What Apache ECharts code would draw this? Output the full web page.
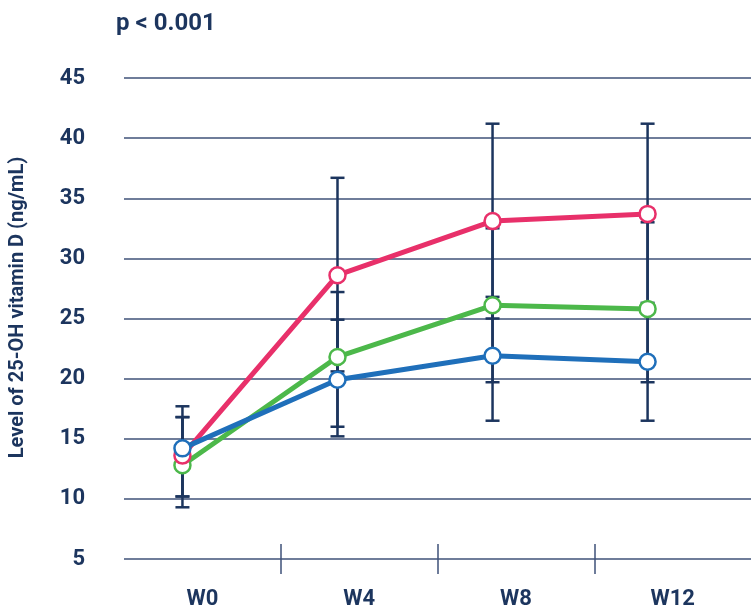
<!DOCTYPE html>
<html>
<head>
<meta charset="utf-8">
<script src="https://cdn.jsdelivr.net/npm/echarts@6/dist/echarts.min.js"></script>
<style>
  html, body { margin: 0; padding: 0; background: #fff; }
  #chart { width: 751px; height: 612px; }
</style>
</head>
<body>
<div id="chart"></div>
<script>
// weeks of follow-up
const weeks = ['W0', 'W4', 'W8', 'W12'];
const yTicks = [5, 10, 15, 20, 25, 30, 35, 40, 45];

// group means (ng/mL)
const pinkMean  = [13.6, 28.6, 33.1, 33.7];
const greenMean = [12.8, 21.8, 26.1, 25.8];
const blueMean  = [14.2, 19.9, 21.9, 21.4];

// error bar ends
const pinkLow   = [10.2, 20.6, 25.0, 26.1];
const pinkHigh  = [16.8, 36.7, 41.2, 41.2];
const greenLow  = [9.3, 16.0, 19.7, 19.7];
const greenHigh = [16.8, 27.2, 32.5, 33.0];
const blueLow   = [10.2, 15.2, 16.5, 16.5];
const blueHigh  = [17.7, 24.9, 26.8, 26.3];

const navy = '#1c355e';
const gridCol = '#3f5279';
const font = 'Roboto';

function pts(arr) {
  return arr.map(function (v, i) { return [i, v]; });
}
function bars(lo, hi) {
  return lo.map(function (v, i) { return [i, v, hi[i]]; });
}

function errItem(params, api) {
  let x = api.value(0);
  let lo = api.coord([x, api.value(1)]);
  let hi = api.coord([x, api.value(2)]);
  let w = 7;
  let st = { stroke: navy, lineWidth: 2.5 };
  return {
    type: 'group',
    children: [
      { type: 'line', shape: { x1: lo[0], y1: lo[1], x2: hi[0], y2: hi[1] }, style: st },
      { type: 'line', shape: { x1: lo[0] - w, y1: lo[1], x2: lo[0] + w, y2: lo[1] }, style: st },
      { type: 'line', shape: { x1: hi[0] - w, y1: hi[1], x2: hi[0] + w, y2: hi[1] }, style: st }
    ]
  };
}

function lineSeries(name, data, color) {
  return {
    name: name,
    type: 'line',
    xAxisIndex: 2,
    data: pts(data),
    symbol: 'circle',
    symbolSize: 16,
    z: 5,
    lineStyle: { color: color, width: 5 },
    itemStyle: { color: '#fff', borderColor: color, borderWidth: 2.5 }
  };
}

function errSeries(lo, hi) {
  return {
    type: 'custom',
    xAxisIndex: 2,
    renderItem: errItem,
    data: bars(lo, hi),
    z: 2
  };
}

// separator ticks between the week bands (crossing the bottom line)
function sepAxis(inside) {
  return {
    type: 'value',
    min: 0,
    max: weeks.length,
    position: 'bottom',
    axisLine: { show: false },
    splitLine: { show: false },
    axisLabel: { show: false },
    axisTick: {
      show: true,
      inside: inside,
      length: 15,
      customValues: [1, 2, 3],
      lineStyle: { color: gridCol, width: 1.5 }
    }
  };
}

let myChart = echarts.init(document.getElementById('chart'));
let option = {
  animation: false,
  title: {
    text: 'p < 0.001',
    left: 111,
    top: 7,
    textStyle: { fontFamily: font, fontSize: 24, fontWeight: 'bold', color: navy }
  },
  grid: { left: 122, right: 0, top: 78, bottom: 53, containLabel: false },
  xAxis: [{
    type: 'category',
    data: weeks,
    position: 'bottom',
    axisLine: { show: false },
    axisTick: { show: false },
    axisLabel: { fontFamily: font, fontSize: 22, fontWeight: 'bold', color: navy, margin: 29 }
  },
  sepAxis(false),
  {
    type: 'value',
    min: -0.377,
    max: 3.667,
    show: false
  },
  sepAxis(true)
  ],
  yAxis: {
    type: 'value',
    min: yTicks[0],
    max: yTicks[yTicks.length - 1],
    interval: 5,
    name: 'Level of 25-OH vitamin D (ng/mL)',
    nameLocation: 'middle',
    nameGap: 96,
    nameTextStyle: { fontFamily: font, fontSize: 20, fontWeight: 'bold', color: navy, padding: [0, 0, 0, 22] },
    axisLine: { show: false },
    axisTick: { show: false },
    axisLabel: { fontFamily: font, fontSize: 22, fontWeight: 'bold', color: navy, margin: 39 },
    splitLine: { show: true, lineStyle: { color: gridCol, width: 1.5 } }
  },
  series: [
    errSeries(greenLow, greenHigh),
    errSeries(pinkLow, pinkHigh),
    errSeries(blueLow, blueHigh),
    lineSeries('Group C', greenMean, '#4cb84a'),
    lineSeries('Group B', pinkMean, '#e8306a'),
    lineSeries('Group A', blueMean, '#1f6fba')
  ]
};
myChart.setOption(option);
</script>
</body>
</html>
